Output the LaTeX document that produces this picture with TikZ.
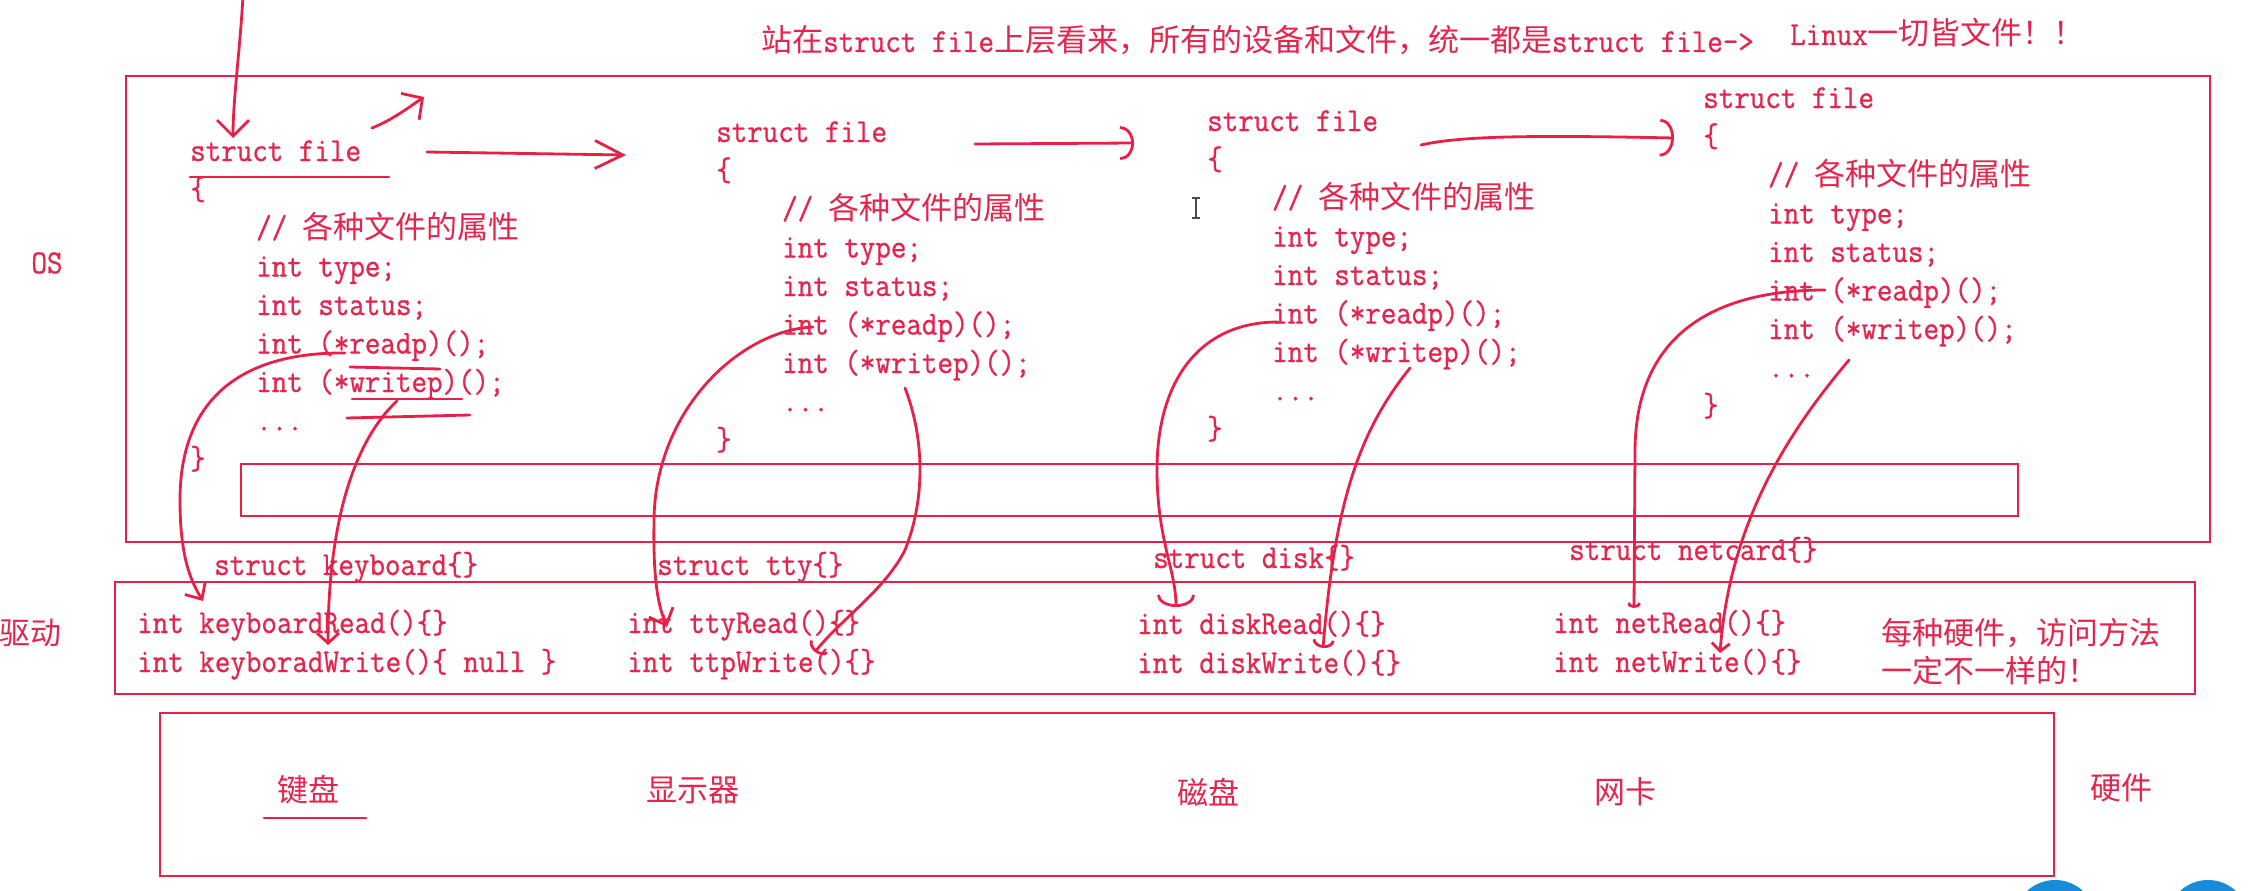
\documentclass[tikz,border=0pt]{standalone}
\usepackage{fontspec}
\newfontfamily\hanzi{Noto Sans CJK SC}
\newfontfamily\codefam{Latin Modern Mono}[FakeStretch=0.9, FakeBold=0.8]
\usetikzlibrary{arrows.meta}
\definecolor{pen}{RGB}{232,32,72}
\definecolor{ink}{RGB}{228,38,78}
\definecolor{btn}{RGB}{24,140,216}
\newcommand\codefont{\fontsize{33.5pt}{36pt}\selectfont\codefam}
\newcommand\hanzifont{\fontsize{31pt}{36pt}\selectfont\hanzi}
\tikzset{
  txt/.style={inner sep=0pt, text=ink, font=\codefont, anchor=base west},
  han/.style={inner sep=0pt, text=ink, font=\hanzifont},
  box/.style={draw=pen, line width=2.6pt},
  hand/.style={draw=pen, line width=2.8pt, line cap=round, line join=round},
}
\newcommand\fileblock[4]{%
  \node[txt] (#1s) at (#2,#4) {struct file};
  \node[txt] (#1o) at (#2,#4+38.5) {\{};
  \node[txt] (#1c) at (#3,#4+77) {//\ {\hanzifont 各种文件的属性}};
  \node[txt] (#1t) at (#3,#4+115.5) {int type;};
  \node[txt] (#1u) at (#3,#4+154) {int status;};
  \node[txt] (#1r) at (#3,#4+192.5) {int (*readp)();};
  \node[txt] (#1w) at (#3,#4+231) {int (*writep)();};
  \node[txt] (#1d) at (#3,#4+269.5) {...};
  \node[txt] (#1e) at (#2,#4+308) {\}};
}
\begin{document}
\begin{tikzpicture}[x=1pt,y=-1pt]
\clip (0,0) rectangle (2249,891);
\fill[white] (0,0) rectangle (2249,891);

% boxes
\draw[box] (126,76) rectangle (2210,542);
\draw[box] (241,464) rectangle (2018,516);
\draw[box] (115,582) rectangle (2195,694);
\draw[box] (160,713) rectangle (2054,876);

% title
\node[txt] (title) at (761,52) {{\hanzifont 站在}struct file{\hanzifont 上层看来，所有的设备和文件，统一都是}struct file->};
\node[txt] (linux) at (1790,45) {Linux{\hanzifont 一切皆文件！！}};

% side labels
\node[txt, anchor=center] (os) at (47,263) {OS};
\node[han] (qd) at (30,633) {驱动};
\node[han] (yj) at (2121,788) {硬件};

% struct file blocks
\fileblock{bA}{190}{256}{161}
\fileblock{bB}{716}{782}{142}
\fileblock{bC}{1207}{1272}{131}
\fileblock{bD}{1703}{1768}{108}

% drivers
\node[txt] (kbs) at (214,575) {struct keyboard\{\}};
\node[txt] (kbr) at (137,633) {int keyboardRead()\{\}};
\node[txt] (kbw) at (137,672) {int keyboradWrite()\{ null \}};
\node[txt] (tts) at (657,575) {struct tty\{\}};
\node[txt] (ttr) at (627,633) {int ttyRead()\{\}};
\node[txt] (ttw) at (627,672) {int ttpWrite()\{\}};
\node[txt] (dks) at (1153,568) {struct disk\{\}};
\node[txt] (dkr) at (1137,634) {int diskRead()\{\}};
\node[txt] (dkw) at (1137,673) {int diskWrite()\{\}};
\node[txt] (nts) at (1569,560) {struct netcard\{\}};
\node[txt] (ntr) at (1553,633) {int netRead()\{\}};
\node[txt] (ntw) at (1553,672) {int netWrite()\{\}};
\node[han, anchor=west] (note1) at (1881,633) {每种硬件，访问方法};
\node[han, anchor=west] (note2) at (1881,671) {一定不一样的！};

% hardware
\node[han] (jp) at (308,790) {键盘};
\node[han] (xsq) at (693,790) {显示器};
\node[han] (cp) at (1208,792) {磁盘};
\node[han] (wk) at (1625,792) {网卡};

% underlines
\draw[hand] (190,177) -- (389,177);
\draw[hand] (350,367) -- (440,369);
\draw[hand] (352,399) -- (462,399);
\draw[hand] (347,418) -- (470,415);
\draw[hand] (264,818) -- (366,818);

% coordinates of connector ends
\coordinate (aS) at (243,-4);   \coordinate (aE) at (233,138);
\coordinate (bS) at (372,128);  \coordinate (bE) at (424,97);
\coordinate (cS) at (427,152);  \coordinate (cE) at (626,155);
\coordinate (dS) at (975,144);  \coordinate (dE) at (1134,143);
\coordinate (eS) at (1421,145); \coordinate (eE) at (1674,138);
\coordinate (g1S) at (345,353); \coordinate (g1E) at (203,601);
\coordinate (g2S) at (397,401); \coordinate (g2E) at (328,645);
\coordinate (g3S) at (813,327); \coordinate (g3E) at (667,627);
\coordinate (g4S) at (905,388); \coordinate (g4E) at (815,652);
\coordinate (g5S) at (1278,322); \coordinate (g5E) at (1176,607);
\coordinate (g6S) at (1410,368); \coordinate (g6E) at (1323,648);
\coordinate (g7S) at (1825,290); \coordinate (g7E) at (1634,608);
\coordinate (g8S) at (1849,360); \coordinate (g8E) at (1720,653);

% top arrows
\draw[hand, -{Straight Barb[length=16pt,width=32pt]}] (aS) .. controls (240,50) and (233,100) .. (aE);
\draw[hand, -{Straight Barb[length=15pt,width=32pt]}] (bS) .. controls (392,120) and (408,108) .. (bE);
\draw[hand, -{Straight Barb[length=28pt,width=28pt]}] (cS) -- (cE);
\draw[hand, -{Arc Barb[length=14pt,width=34pt]}] (dS) -- (dE);
\draw[hand, -{Arc Barb[length=14pt,width=38pt]}] (eS) .. controls (1460,136) and (1530,135) .. (eE);

% pointer arrows
\draw[hand, -{Straight Barb[length=13pt,width=24pt]}] (g1S) .. controls (240,352) and (180,400) .. (180,500) .. controls (180,555) and (190,580) .. (g1E);
\draw[hand, -{Straight Barb[length=10pt,width=22pt]}] (g2S) .. controls (355,440) and (328,520) .. (g2E);
\draw[hand, -{Straight Barb[length=14pt,width=26pt]}] (g3S) .. controls (740,330) and (655,410) .. (654,520) .. controls (653,580) and (658,605) .. (g3E);
\draw[hand, -{Arc Barb[length=7pt,width=22pt]}] (g4S) .. controls (925,440) and (925,500) .. (905,550) .. controls (885,590) and (840,620) .. (g4E);
\draw[hand, -{Arc Barb[length=12pt,width=38pt]}] (g5S) .. controls (1200,322) and (1157,380) .. (1157,470) .. controls (1157,540) and (1176,570) .. (g5E);
\draw[hand, -{Arc Barb[length=8pt,width=22pt]}] (g6S) .. controls (1360,430) and (1335,500) .. (g6E);
\draw[hand, -{Arc Barb[length=5pt,width=14pt]}] (g7S) .. controls (1720,290) and (1636,330) .. (1635,450) -- (g7E);
\draw[hand, -{Straight Barb[length=8pt,width=18pt]}] (g8S) .. controls (1790,430) and (1730,520) .. (g8E);

% text cursor
\draw[line width=1.6pt, black!70] (1196,199) -- (1196,217);
\draw[line width=1.2pt, black!70] (1192,198) -- (1200,198) (1192,218) -- (1200,218);

% player buttons
\fill[btn] (2055,921) circle[radius=41pt];
\fill[btn] (2208,921) circle[radius=41pt];
\end{tikzpicture}
\end{document}
